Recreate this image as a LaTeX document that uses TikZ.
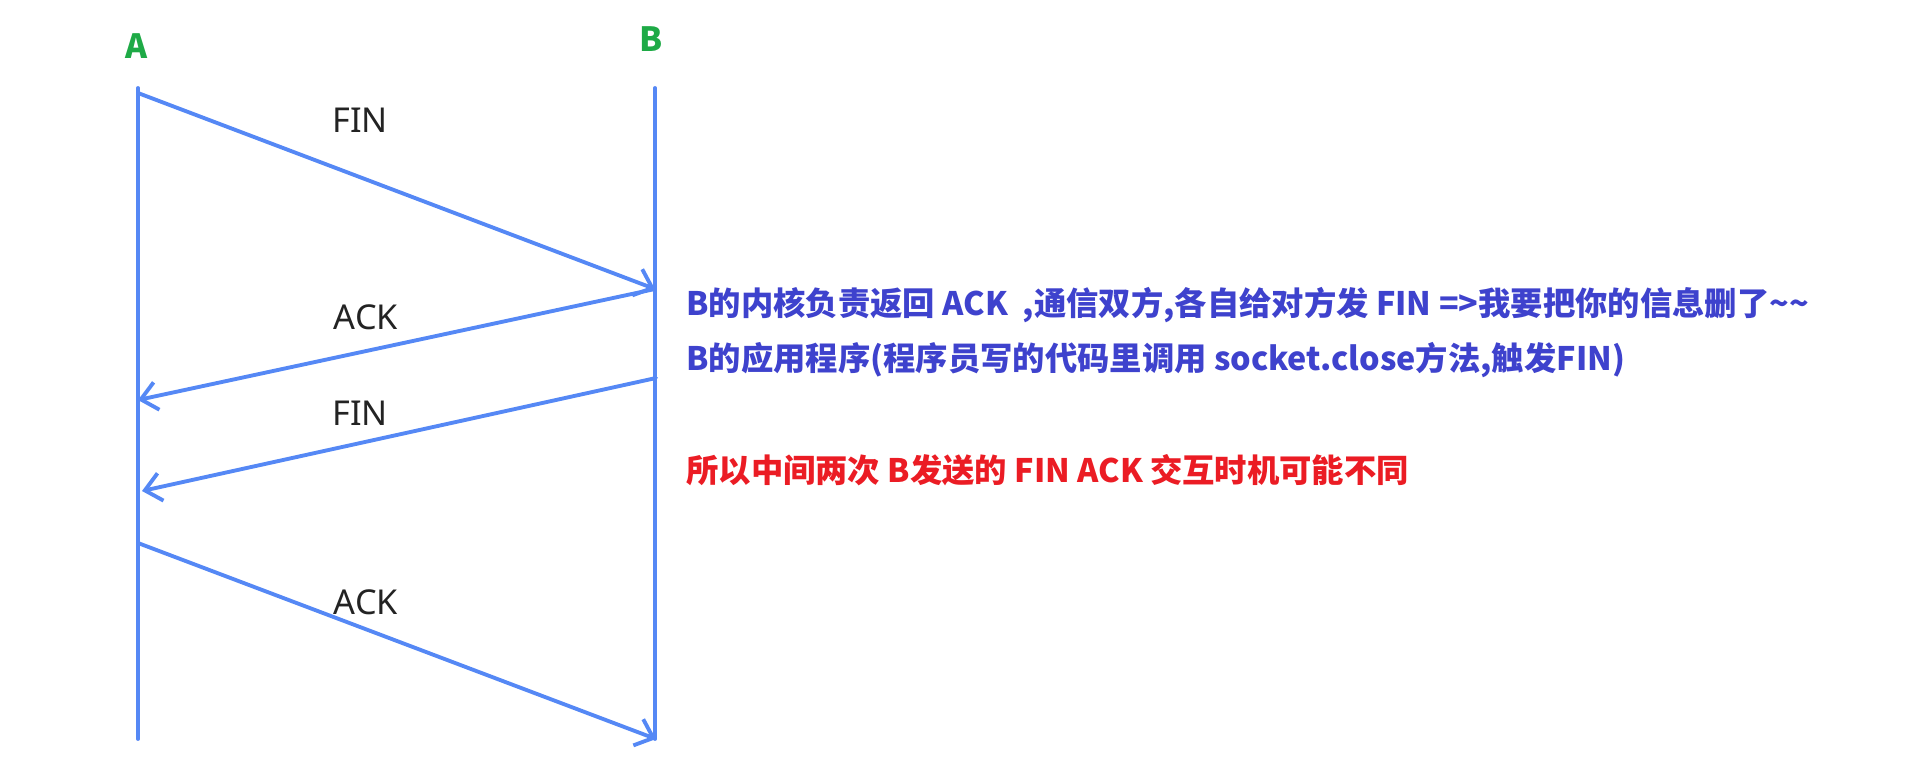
\documentclass[tikz,border=0pt]{standalone}
\usepackage{fontspec}
\setmainfont{Noto Sans}
\newfontfamily\cjk{Noto Sans CJK SC}
\usetikzlibrary{arrows.meta}

\definecolor{lineblue}{RGB}{85,136,245}
\definecolor{noteblue}{RGB}{62,66,205}
\definecolor{notered}{RGB}{235,28,36}
\definecolor{peergreen}{RGB}{30,170,70}
\definecolor{msggray}{RGB}{35,35,35}

\begin{document}
\begin{tikzpicture}[x=0.02cm, y=-0.02cm,
	life/.style={line width=2.2pt, lineblue, line cap=round},
	msg/.style={line width=2.2pt, lineblue, line cap=round,
		-{Straight Barb[length=3.2mm, width=5.6mm, line width=2.2pt]}},
	peer/.style={font=\cjk\fontsize{19}{22}\selectfont\bfseries, text=peergreen},
	msglabel/.style={font=\fontsize{19.5}{22}\selectfont, text=msggray},
	note/.style={anchor=west, inner sep=0pt, font=\cjk\fontsize{18.4}{21}\selectfont\bfseries}]

		\useasboundingbox (0,0) rectangle (1914,772);

		% the two ends
		\node [peer] (A) at (137,46) {A};
		\node [peer] (B) at (651,39) {B};

		\coordinate (atop) at (138,88);
		\coordinate (abot) at (138,739);
		\coordinate (btop) at (655,88);
		\coordinate (bbot) at (655,739);

		\draw [life] (atop) -- (abot);
		\draw [life] (btop) -- (bbot);

		% message ends
		\coordinate (a1) at (138,93);
		\coordinate (b1) at (655,289);
		\coordinate (a2) at (138,400);
		\coordinate (b2) at (656,378);
		\coordinate (a3) at (142,491);
		\coordinate (a4) at (138,543);
		\coordinate (b4) at (656,739);

		\draw [msg] (a1) -- (b1);
		\draw [msg] (b1) -- (a2);
		\draw [msg] (b2) -- (a3);
		\draw [msg] (a4) -- (b4);

		\node [msglabel] (fin1) at (360,120) {FIN};
		\node [msglabel] (ack1) at (366,317) {ACK};
		\node [msglabel] (fin2) at (360,413) {FIN};
		\node [msglabel] (ack2) at (366,602) {ACK};

		% notes on the right
		\node [note, text=noteblue] (kernel) at (686,305) {B的内核负责返回 ACK\ \ ,通信双方,各自给对方发 FIN =>我要把你的信息删了\textasciitilde\textasciitilde};
		\node [note, text=noteblue] (app) at (686,360) {B的应用程序(程序员写的代码里调用 socket.close方法,触发FIN)};
		\node [note, text=notered] (timing) at (686,470) {所以中间两次 B发送的 FIN ACK 交互时机可能不同};

\end{tikzpicture}
\end{document}
